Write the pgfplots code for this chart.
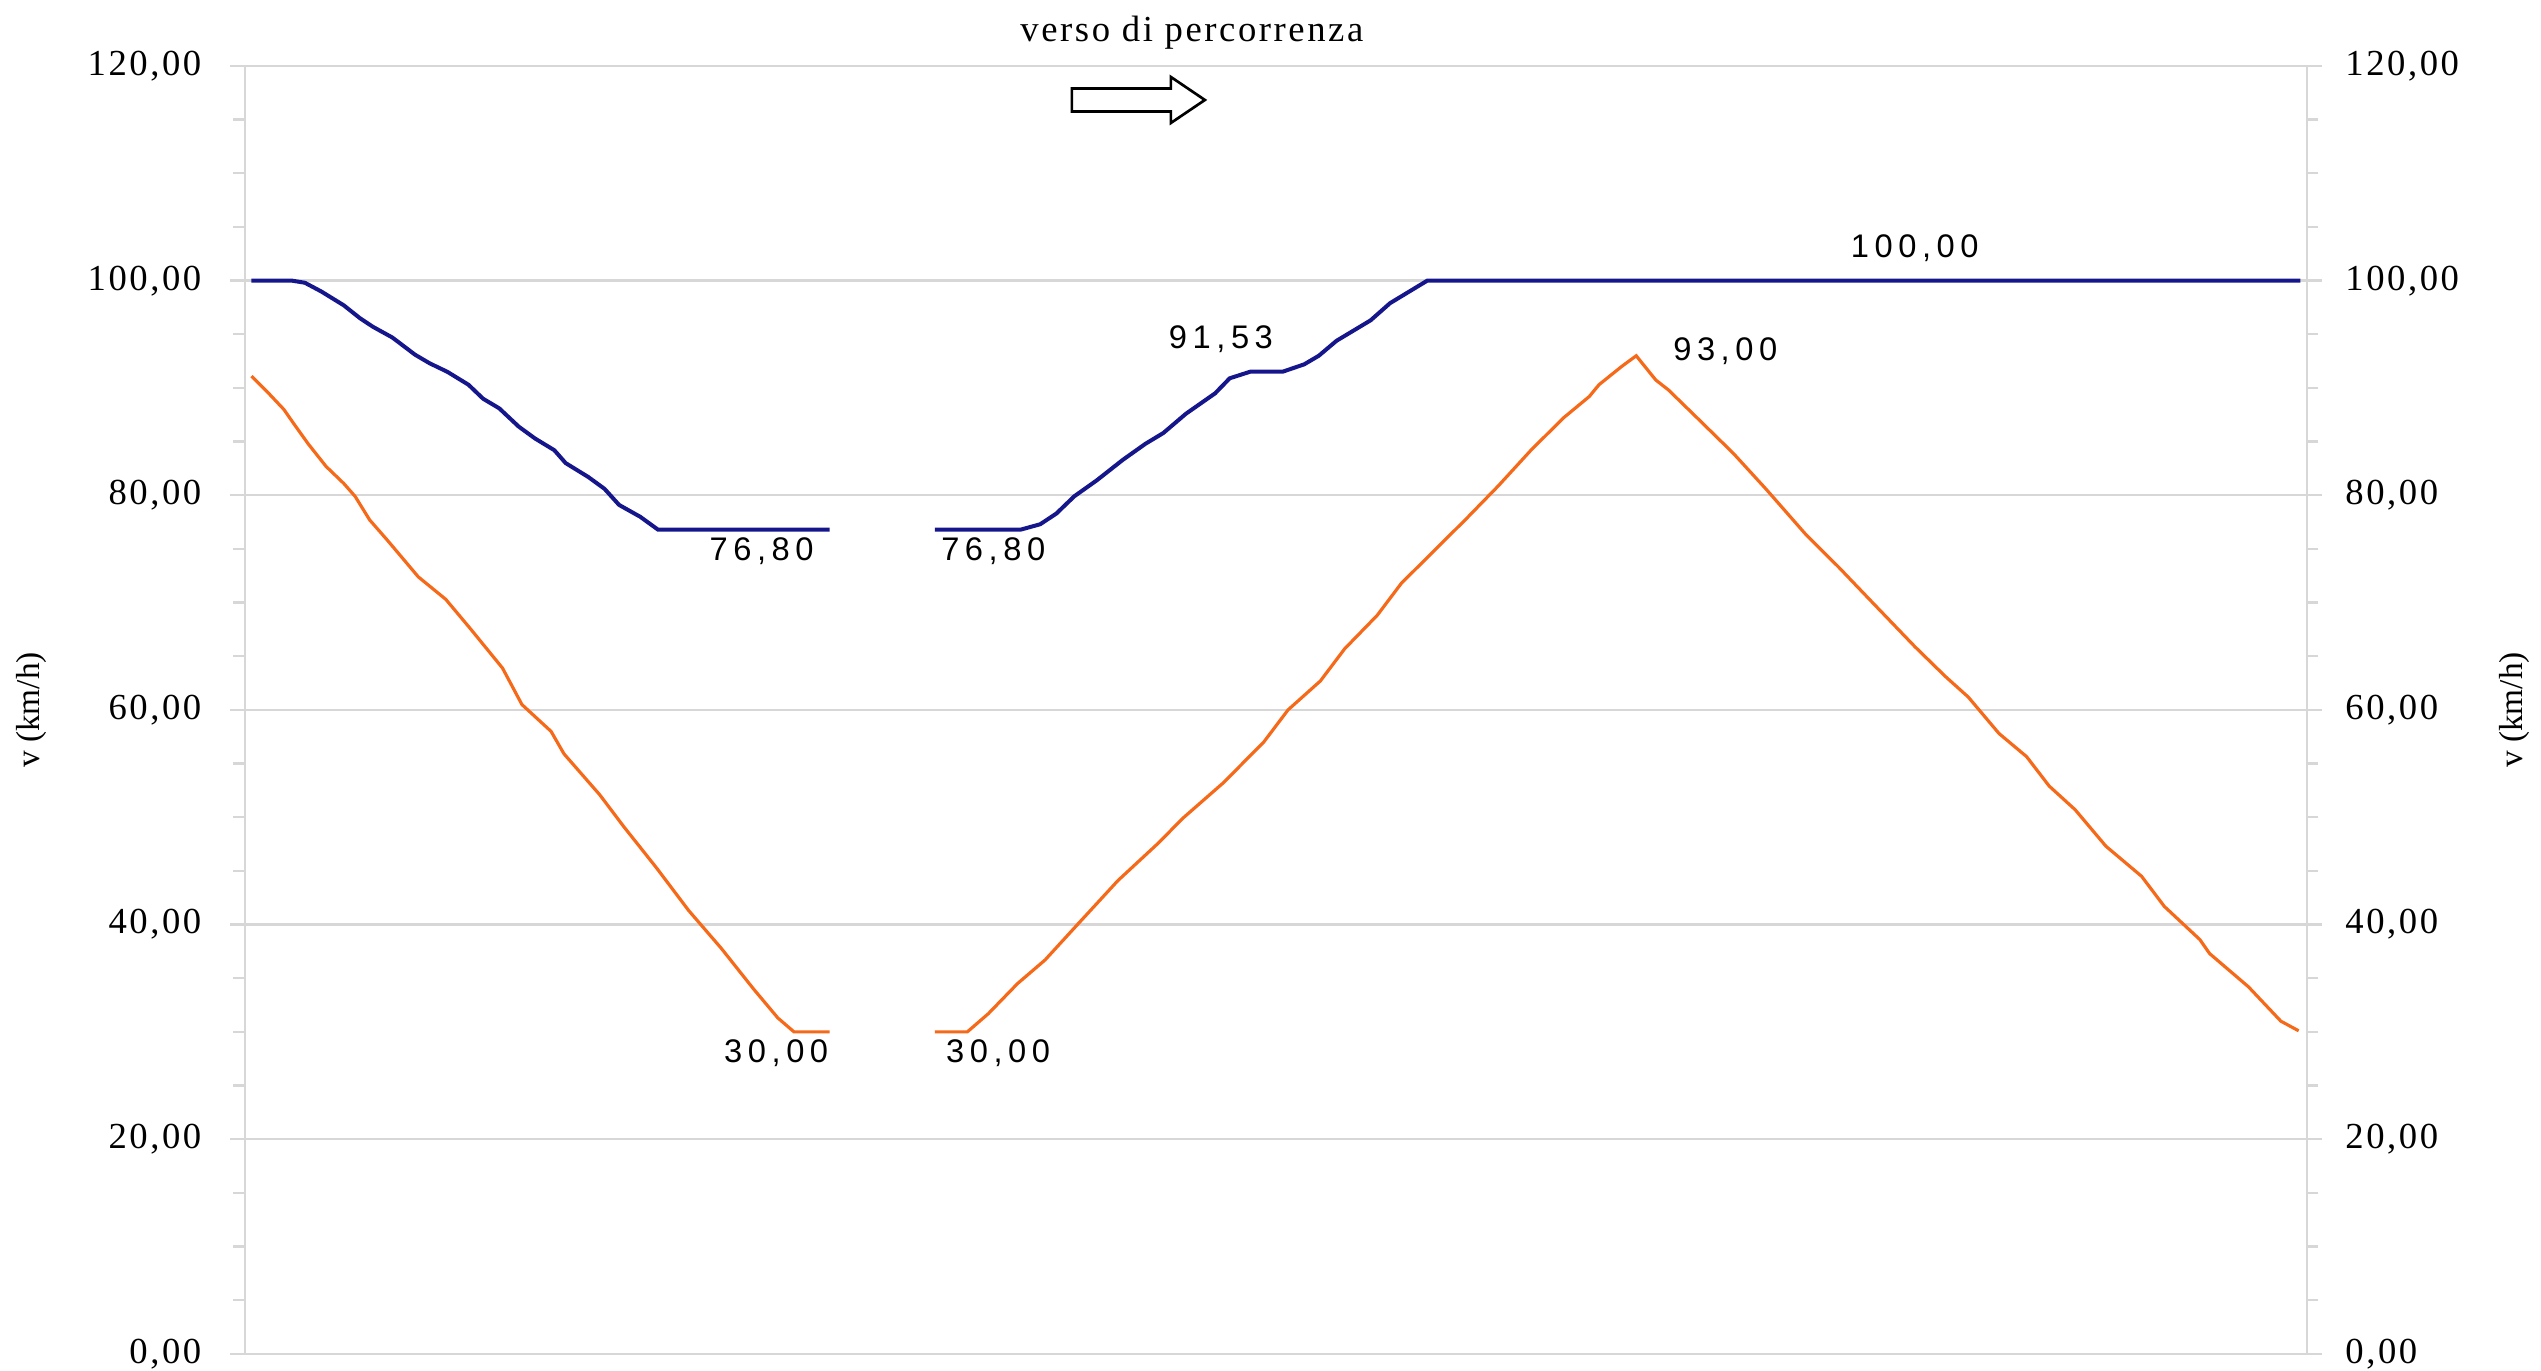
\documentclass[border=0pt]{standalone}
\usepackage{fontspec}
\setmainfont{Liberation Serif}
\newfontfamily\serifls[LetterSpace=7]{Liberation Serif}
\newfontfamily\sansls[LetterSpace=17]{Liberation Sans}
\usepackage{pgfplots}
\usepackage{pgfplotstable}
\pgfplotsset{compat=1.18}
\definecolor{navyline}{RGB}{22,22,140}
\definecolor{orangeline}{RGB}{245,105,25}
\definecolor{gridgray}{RGB}{215,215,215}

\pgfplotstableread{
x y
155 100
180 100
188 99.8
198 99.0
212 97.7
222 96.5
230 95.7
242 94.7
256 93.1
265 92.3
276 91.5
289 90.3
298 89.0
308 88.1
320 86.4
330 85.3
342 84.2
349 83.0
363 81.7
373 80.6
382 79.1
395 78.0
406 76.8
512 76.8
}\blueA

\pgfplotstableread{
x y
577 76.8
630 76.8
642 77.3
652 78.3
663 79.9
677 81.4
693 83.3
707 84.8
718 85.8
732 87.6
750 89.5
759 90.9
772 91.53
792 91.53
805 92.2
814 93.0
825 94.4
846 96.3
858 97.9
881 100
1420 100
}\blueB

\pgfplotstableread{
x y
155 91.1
165 89.6
175 88.0
181 86.7
190 84.8
201 82.7
212 81.1
219 79.9
228 77.7
239 75.8
258 72.4
275 70.3
290 67.6
310 63.9
322 60.5
340 58.0
348 55.9
370 52.1
385 49.1
405 45.3
425 41.3
445 37.8
465 34.0
480 31.3
490 30
512 30
}\orangeA

\pgfplotstableread{
x y
577 30
597 30
610 31.7
628 34.5
645 36.7
665 40
690 44.1
715 47.6
730 49.9
755 53.2
780 57.0
795 60.0
815 62.7
830 65.7
850 68.8
865 71.8
885 74.8
905 77.8
925 80.9
945 84.2
965 87.2
981 89.2
987 90.3
1001 92.0
1010 93.0
1022 90.75
1030 89.8
1047 87.3
1070 83.9
1090 80.6
1115 76.3
1135 73.3
1154 70.3
1182 65.9
1201 63.1
1215 61.2
1234 57.8
1251 55.65
1265 52.9
1281 50.7
1300 47.3
1322 44.5
1336 41.7
1358 38.6
1364 37.3
1388 34.2
1408 31.0
1419 30.1
}\orangeB

\pgfplotsset{
  base/.style={
    scale only axis, width=618.6pt, height=386.4pt,
    xmin=151, xmax=1424, ymin=0, ymax=120,
    axis x line=none,
    ytick={0,20,...,120}, minor y tick num=3,
    tick align=outside, major tick length=4.5pt, minor tick length=3.5pt,
    every tick/.style={draw=gridgray, line width=0.7pt},
    axis line style={draw=gridgray, line width=0.7pt},
    /pgf/number format/fixed, /pgf/number format/fixed zerofill,
    /pgf/number format/precision=2, /pgf/number format/use comma,
    /pgf/number format/assume math mode=true,
    yticklabel style={font=\serifls\fontsize{11}{13}\selectfont, inner sep=0pt},
    ylabel={v (km/h)},
    ylabel style={font=\fontsize{10}{12}\selectfont, anchor=center},
  }
}

\begin{document}
\begin{tikzpicture}
\begin{scope}[x=0.3pt,y=-0.3pt,xshift=-73.5pt,yshift=406.2pt]
\useasboundingbox (0,0) rectangle (2541,1371);
\end{scope}

\begin{axis}[base,
  axis y line*=left,
  ymajorgrids, major grid style={draw=gridgray, line width=0.7pt},
  yticklabel style={anchor=east, xshift=-8.4pt},
  ylabel style={at={(axis description cs:-0.1033,0.5)}},
]
\addplot[navyline, line width=1.2pt] table {\blueA};
\addplot[navyline, line width=1.2pt] table {\blueB};
\addplot[orangeline, line width=0.95pt] table {\orangeA};
\addplot[orangeline, line width=0.95pt] table {\orangeB};
\begin{scope}[every node/.style={font=\sansls\fontsize{9.8}{12}\selectfont}]
\node at (axis cs:470,74.8) {76,80};
\node at (axis cs:613,74.8) {76,80};
\node at (axis cs:479,28.0) {30,00};
\node at (axis cs:616,28.0) {30,00};
\node at (axis cs:753.6,94.5) {91,53};
\node at (axis cs:1065,93.4) {93,00};
\node at (axis cs:1182,103.0) {100,00};
\end{scope}
\end{axis}

\begin{axis}[base,
  axis y line*=right,
  yticklabel style={anchor=west, xshift=6.9pt},
  ylabel style={at={(axis description cs:1.1009,0.5)}},
]
\end{axis}

\begin{scope}[x=0.3pt,y=-0.3pt,xshift=-73.5pt,yshift=406.2pt]
\draw[line width=0.8pt, fill=white] (1072,88.5) -- (1171,88.5) -- (1171,77) -- (1205,100) -- (1171,123) -- (1171,111.5) -- (1072,111.5) -- cycle;
\node[font=\serifls\fontsize{11}{13}\selectfont] at (1192,33) {verso di percorrenza};
\end{scope}
\end{tikzpicture}
\end{document}
